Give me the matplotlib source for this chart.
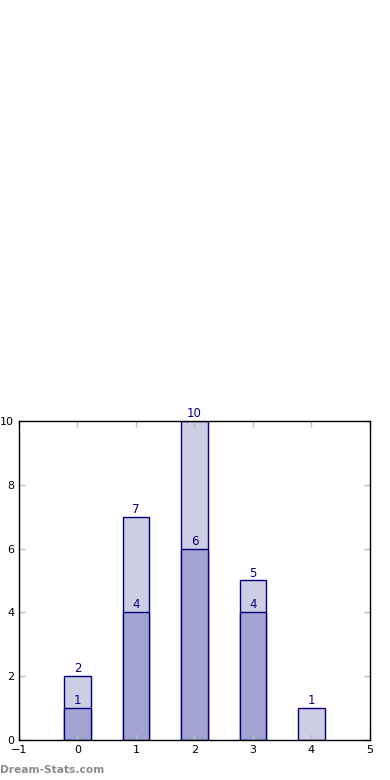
import matplotlib
matplotlib.use("Agg")
import matplotlib.pyplot as plt

# data
categories = [0, 1, 2, 3, 4]
totals = [2, 7, 10, 5, 1]
inner = [1, 4, 6, 4, 0]

LIGHT = "#cdcde4"
DARK = "#a3a3d1"
EDGE = "#000080"

fig = plt.figure(figsize=(3.9, 7.8), dpi=100)
ax = fig.add_axes([0.0487, 0.0513, 0.9, 0.409])

ax.bar(categories, totals, width=0.45, color=LIGHT, edgecolor=EDGE, linewidth=1)
inner_x = [c for c, v in zip(categories, inner) if v > 0]
inner_v = [v for v in inner if v > 0]
ax.bar(inner_x, inner_v, width=0.45, color=DARK, edgecolor=EDGE, linewidth=1)

for c, v in zip(categories, totals):
    ax.text(c, v + 0.03, str(v), ha="center", va="bottom", color=EDGE, fontsize=8.5)
for c, v in zip(inner_x, inner_v):
    ax.text(c, v + 0.03, str(v), ha="center", va="bottom", color=EDGE, fontsize=8.5)

ax.set_xlim(-1, 5)
ax.set_ylim(0, 10)
ax.set_xticks(range(-1, 6))
ax.set_yticks(range(0, 11, 2))
ax.tick_params(direction="in", length=4, width=1, colors="#bbbbbb",
               labelcolor="black", labelsize=8, top=True, right=True)
for s in ax.spines.values():
    s.set_linewidth(1)

# watermark
fig.text(0.0, 0.0128, "Dream-Stats.com", color="#8c8c8c", fontsize=7.7,
         fontweight="semibold", ha="left", va="center")

fig.savefig("out.png", dpi=100)
